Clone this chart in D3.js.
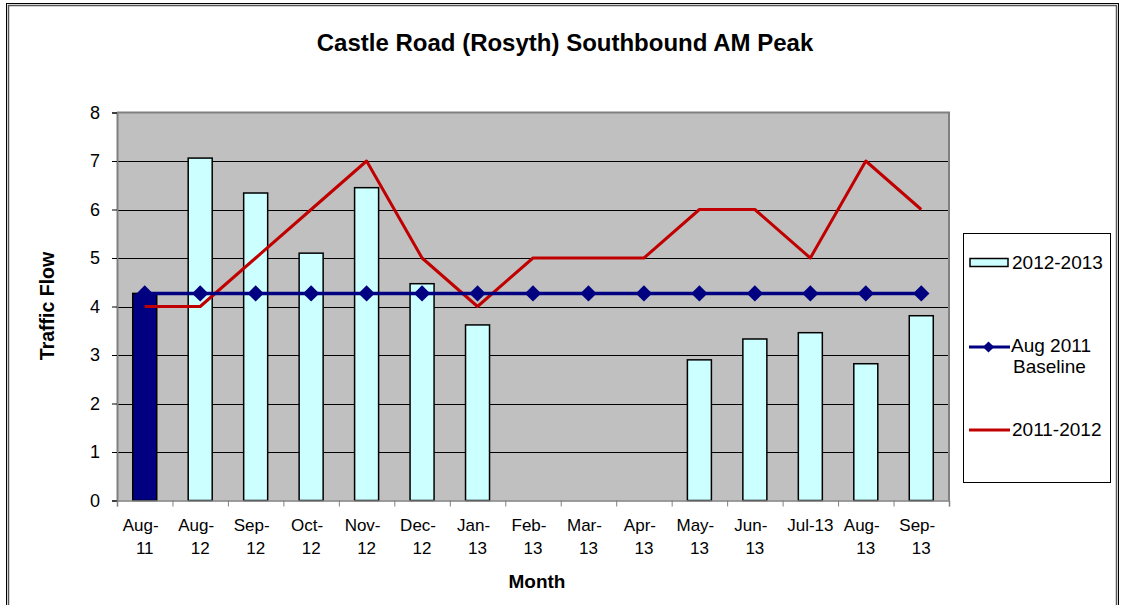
<!DOCTYPE html>
<html><head><meta charset="utf-8">
<script src="https://cdn.jsdelivr.net/npm/d3@7"></script>
<style>body{margin:0;background:#fff}svg{display:block}text{font-family:"Liberation Sans",Arial,sans-serif}</style>
</head><body>
<svg id="c" width="1121" height="605"></svg>
<script>
const categories = [["Aug-","11"],["Aug-","12"],["Sep-","12"],["Oct-","12"],["Nov-","12"],["Dec-","12"],["Jan-","13"],["Feb-","13"],["Mar-","13"],["Apr-","13"],["May-","13"],["Jun-","13"],["Jul-13"],["Aug-","13"],["Sep-","13"]];
const bars2012_2013 = [4.27, 7.06, 6.34, 5.10, 6.45, 4.47, 3.62, null, null, null, 2.90, 3.33, 3.46, 2.82, 3.81];
const baselineAug2011 = [4.27,4.27,4.27,4.27,4.27,4.27,4.27,4.27,4.27,4.27,4.27,4.27,4.27,4.27,4.27];
const series2011_2012 = [4,4,5,6,7,5,4,5,5,5,6,6,5,7,6];
const yTicks = [0,1,2,3,4,5,6,7,8];

const svg = d3.select("#c");
// outer frame
svg.append("rect").attr("x",6.5).attr("y",3.5).attr("width",1112).attr("height",640).attr("fill","none").attr("stroke","#000").attr("stroke-width",1);
svg.append("rect").attr("x",8.5).attr("y",5.5).attr("width",1108).attr("height",640).attr("fill","none").attr("stroke","#555").attr("stroke-width",1.5);

const L=117, R=949, T=112.5, B=500.5;
const x = d3.scaleBand().domain(d3.range(categories.length)).range([L,R]).paddingInner(0).paddingOuter(0);
const y = d3.scaleLinear().domain([0,8]).range([B,T]);

svg.append("rect").attr("x",L).attr("y",T).attr("width",R-L).attr("height",B-T).attr("fill","#C0C0C0");
// gridlines
svg.append("g").selectAll("line").data(yTicks.filter(d=>d>0&&d<8)).join("line")
  .attr("x1",L).attr("x2",R).attr("y1",d=>Math.round(y(d))+0.5).attr("y2",d=>Math.round(y(d))+0.5)
  .attr("stroke","#000").attr("stroke-width",1);
// plot border top/right
svg.append("path").attr("d",`M${L},${T}H${R}V${B}`).attr("fill","none").attr("stroke","#808080").attr("stroke-width",2);

// bars
const bw = 24;
svg.append("g").selectAll("rect").data(bars2012_2013.map((v,i)=>({v,i})).filter(d=>d.v!=null)).join("rect")
  .attr("x",d=>x(d.i)+x.bandwidth()/2-bw/2).attr("y",d=>y(d.v)).attr("width",bw).attr("height",d=>B-y(d.v))
  .attr("fill",d=>d.i===0?"#000080":"#CCFFFF").attr("stroke","#000").attr("stroke-width",1.5);

// y axis
const ya = d3.axisLeft(y).tickValues(yTicks).tickSize(5).tickPadding(12);
const gy = svg.append("g").attr("transform",`translate(${L},0)`).call(ya);
gy.select(".domain").attr("stroke","#808080").attr("stroke-width",2);
gy.selectAll(".tick line").attr("stroke","#000");
gy.selectAll("text").attr("font-size",18).attr("fill","#000");

// x axis
const xb = d3.scaleLinear().domain([0,categories.length]).range([L,R]);
const xa = d3.axisBottom(xb).tickValues(d3.range(categories.length+1)).tickSize(6).tickFormat("");
const gx = svg.append("g").attr("transform",`translate(0,${B})`).call(xa);
gx.select(".domain").attr("stroke","#808080").attr("stroke-width",1.5);
gx.selectAll(".tick line").attr("stroke","#808080");
const xl = svg.append("g");
categories.forEach((c,i)=>{
  const cx = x(i)+x.bandwidth()/2;
  const t = xl.append("text").attr("x",cx).attr("y",530.5).attr("text-anchor","middle").attr("font-size",17).attr("fill","#000");
  c.forEach((s,k)=>t.append("tspan").attr("x",cx+(k===0&&c.length>1?-4:0)).attr("dy",k===0?0:23).text(s));
});

// red line
svg.append("path").datum(series2011_2012).attr("fill","none").attr("stroke","#C00000").attr("stroke-width",3).attr("stroke-linejoin","round")
  .attr("d",d3.line().x((d,i)=>x(i)+x.bandwidth()/2).y(d=>y(d)));
// baseline
svg.append("path").datum(baselineAug2011).attr("fill","none").attr("stroke","#000080").attr("stroke-width",3.5)
  .attr("d",d3.line().x((d,i)=>x(i)+x.bandwidth()/2).y(d=>y(d)));
const diamond = d3.symbol().type(d3.symbolDiamond2).size(170);
svg.append("g").selectAll("path").data(baselineAug2011).join("path")
  .attr("transform",(d,i)=>`translate(${x(i)+x.bandwidth()/2},${y(d)})`).attr("d",diamond).attr("fill","#000080");

// titles
svg.append("text").attr("x",565).attr("y",50.5).attr("text-anchor","middle").attr("font-size",24).attr("font-weight","bold").text("Castle Road (Rosyth) Southbound AM Peak");
svg.append("text").attr("transform","translate(54,306) rotate(-90)").attr("text-anchor","middle").attr("font-size",19.5).attr("font-weight","bold").text("Traffic Flow");
svg.append("text").attr("x",537).attr("y",588).attr("text-anchor","middle").attr("font-size",19).attr("font-weight","bold").text("Month");

// legend
const lg = svg.append("g");
lg.append("rect").attr("x",963.5).attr("y",233.5).attr("width",147).attr("height",249).attr("fill","#fff").attr("stroke","#000").attr("stroke-width",1);
lg.append("rect").attr("x",970).attr("y",258.5).attr("width",38).attr("height",8).attr("fill","#CCFFFF").attr("stroke","#000").attr("stroke-width",1.5);
lg.append("text").attr("x",1012).attr("y",268.5).attr("font-size",19).text("2012-2013");
lg.append("line").attr("x1",969).attr("x2",1010).attr("y1",347).attr("y2",347).attr("stroke","#000080").attr("stroke-width",3);
lg.append("path").attr("transform","translate(988.5,347)").attr("d",d3.symbol().type(d3.symbolDiamond2).size(80)).attr("fill","#000080");
lg.append("text").attr("x",1011).attr("y",352).attr("font-size",19).text("Aug 2011");
lg.append("text").attr("x",1013).attr("y",373).attr("font-size",19).text("Baseline");
lg.append("line").attr("x1",969).attr("x2",1010).attr("y1",430).attr("y2",430).attr("stroke","#C00000").attr("stroke-width",3);
lg.append("text").attr("x",1012).attr("y",435.5).attr("font-size",19).text("2011-2012");
</script>
</body></html>
